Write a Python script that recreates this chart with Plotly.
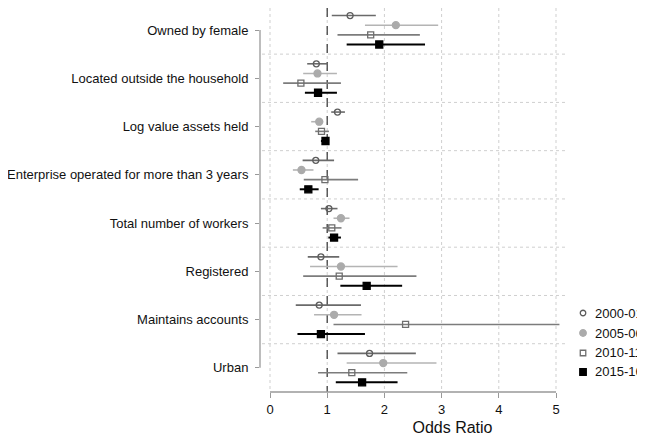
import plotly.graph_objects as go

categories = ["Owned by female", "Located outside the household", "Log value assets held",
              "Enterprise operated for more than 3 years", "Total number of workers",
              "Registered", "Maintains accounts", "Urban"]
series_names = ["2000-01", "2005-06", "2010-11", "2015-16"]

or_2000 = [1.40, 0.81, 1.18, 0.80, 1.03, 0.89, 0.86, 1.74]
lo_2000 = [1.08, 0.65, 1.07, 0.57, 0.89, 0.66, 0.45, 1.18]
hi_2000 = [1.85, 1.01, 1.31, 1.12, 1.18, 1.21, 1.59, 2.55]

or_2005 = [2.20, 0.83, 0.86, 0.55, 1.24, 1.24, 1.12, 1.98]
lo_2005 = [1.66, 0.58, 0.72, 0.40, 1.11, 0.70, 0.77, 1.34]
hi_2005 = [2.94, 1.17, 0.93, 0.76, 1.39, 2.23, 1.60, 2.91]

or_2010 = [1.76, 0.54, 0.90, 0.96, 1.08, 1.21, 2.37, 1.43]
lo_2010 = [1.18, 0.23, 0.79, 0.59, 0.92, 0.58, 1.11, 0.84]
hi_2010 = [2.62, 1.24, 1.03, 1.54, 1.25, 2.56, 5.06, 2.40]

or_2015 = [1.91, 0.84, 0.97, 0.67, 1.12, 1.69, 0.89, 1.61]
lo_2015 = [1.34, 0.61, 0.89, 0.52, 1.02, 1.23, 0.48, 1.15]
hi_2015 = [2.71, 1.17, 1.03, 0.85, 1.24, 2.31, 1.66, 2.23]

x_ticks = [0, 1, 2, 3, 4, 5]

row_offsets = [-0.3, -0.1, 0.1, 0.3]
styles = [
    dict(symbol="circle-open", color="#5c5c5c", size=6, line="#6a6a6a", lw=1.6),
    dict(symbol="circle", color="#ababab", size=7, line="#b4b4b4", lw=1.6),
    dict(symbol="square-open", color="#6e6e6e", size=6, line="#7c7c7c", lw=1.6),
    dict(symbol="square", color="#000000", size=7, line="#000000", lw=2.0),
]
data = [(or_2000, lo_2000, hi_2000), (or_2005, lo_2005, hi_2005),
        (or_2010, lo_2010, hi_2010), (or_2015, lo_2015, hi_2015)]

FONT = "Liberation Sans, Arial, Helvetica, sans-serif"
GRID = "#cfcfcf"
n = len(categories)
y_top = -0.456
fig = go.Figure()
for k, (name, (pt, lo, hi), st) in enumerate(zip(series_names, data, styles)):
    ys = [i + row_offsets[k] for i in range(n)]
    fig.add_trace(go.Scatter(
        x=pt, y=ys, mode="markers", name=name, showlegend=False,
        marker=dict(symbol=st["symbol"], size=st["size"], color=st["color"],
                    line=dict(color=st["color"], width=1.3)),
        error_x=dict(type="data", symmetric=False,
                     array=[h - p for h, p in zip(hi, pt)],
                     arrayminus=[p - l for p, l in zip(pt, lo)],
                     color=st["line"], thickness=st["lw"], width=0),
    ))

# legend (Stata-style, at the right edge) drawn on an overlay axis in paper units
leg_x_marker = 0.839
leg_x_text = 0.8655
leg_y = [0.2057, 0.1536, 0.1016, 0.0521]
for k, (name, st) in enumerate(zip(series_names, styles)):
    fig.add_trace(go.Scatter(
        x=[leg_x_marker], y=[leg_y[k]], xaxis="x2", yaxis="y2", mode="markers",
        name=name, showlegend=False, hoverinfo="skip",
        marker=dict(symbol=st["symbol"], size=st["size"] - 0.5, color=st["color"],
                    line=dict(color=st["color"], width=1.3)),
    ))
    fig.add_annotation(x=leg_x_text, y=leg_y[k], xref="paper", yref="paper", text=name,
                       showarrow=False, xanchor="left", yanchor="middle",
                       font=dict(family=FONT, size=13, color="#111111"))

x_left, x_right = -0.14, 5.21

# group separators (dotted) limited to the plot region
for i in range(n - 1):
    fig.add_shape(type="line", xref="x", yref="y", x0=x_left, x1=x_right, y0=i + 0.5, y1=i + 0.5,
                  line=dict(color=GRID, width=1, dash="dot"), layer="below")
# vertical dotted gridlines
for v in x_ticks:
    fig.add_shape(type="line", xref="x", yref="y", x0=v, x1=v, y0=y_top, y1=n - 0.55,
                  line=dict(color=GRID, width=1, dash="dot"), layer="below")

fig.add_shape(type="line", xref="x", yref="y", x0=1, x1=1, y0=y_top, y1=n - 0.5,
              line=dict(color="#444444", width=1.3, dash="dash"), layer="below")

# axis lines spanning only the scale range (Stata style)
fig.add_shape(type="line", xref="paper", yref="y", x0=0, x1=0, y0=0, y1=n - 1,
              line=dict(color="#999999", width=1.3))
fig.add_shape(type="line", xref="x", yref="paper", x0=x_ticks[0], x1=x_ticks[-1], y0=0, y1=0,
              line=dict(color="#999999", width=1.3))

fig.update_layout(
    width=637, height=432,
    margin=dict(l=252, r=0, t=0, b=48, autoexpand=False),
    paper_bgcolor="white", plot_bgcolor="white",
    font=dict(family=FONT, size=13, color="#111111"),
    showlegend=False,
    xaxis=dict(range=[-0.175, 6.556], tickvals=x_ticks, ticktext=[str(v) for v in x_ticks],
               showgrid=False, zeroline=False, showline=False, ticks="outside", ticklen=5,
               tickcolor="#999999", tickwidth=1.3, automargin=False,
               tickfont=dict(size=13, color="#111111"),
               title=dict(text="Odds Ratio", font=dict(size=16, color="#111111"), standoff=6)),
    yaxis=dict(range=[n - 0.5, y_top], tickvals=list(range(n)),
               ticktext=categories, showgrid=False, zeroline=False, showline=False,
               ticks="outside", ticklen=4, tickcolor="#999999", tickwidth=1.3, automargin=False,
               ticklabelstandoff=4,
               tickfont=dict(size=13, color="#111111")),
    xaxis2=dict(overlaying="x", range=[0, 1], visible=False, fixedrange=True),
    yaxis2=dict(overlaying="y", range=[0, 1], visible=False, fixedrange=True),
)

fig.write_html("out.html")
